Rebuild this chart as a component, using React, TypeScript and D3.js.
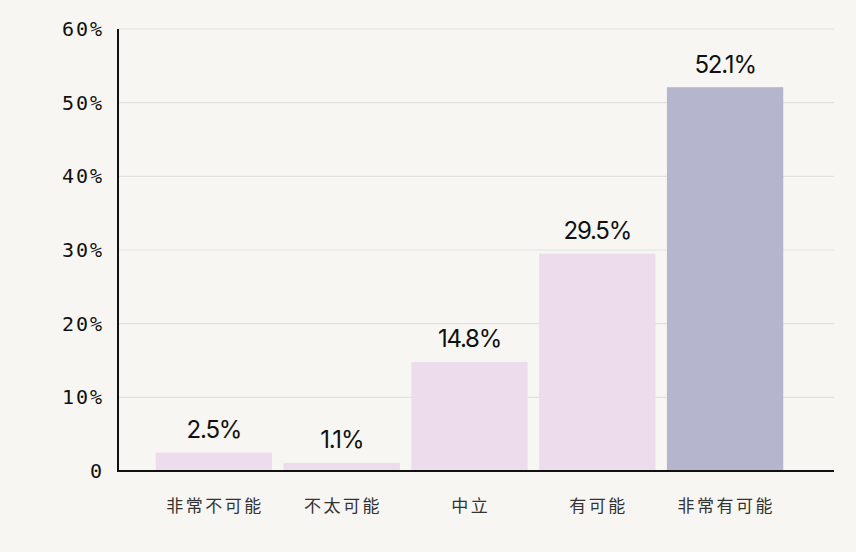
import React, {useEffect, useRef} from "react";
import * as d3 from "d3";

const categories: string[] = ["非常不可能", "不太可能", "中立", "有可能", "非常有可能"];
const shares: number[] = [2.5, 1.1, 14.8, 29.5, 52.1];
const yTicks: number[] = [0, 10, 20, 30, 40, 50, 60];

const Background = "#f7f6f2";
const BarColor = "#ecdcec";
const BarHighlight = "#b5b5cd";

const W = 856;
const H = 552;

export default function App(): React.ReactElement {
  const svgRef = useRef<SVGSVGElement>(null);

  useEffect(() => {
    document.body.style.margin = "0";
    document.body.style.background = Background;
    if (svgRef.current === null) return;
    const svg = d3.select(svgRef.current);
    svg.selectAll("*").remove();

    const x = d3.scaleBand<string>()
      .domain(categories)
      .range([150, 789])
      .paddingInner(0.09)
      .paddingOuter(0.045);
    const y = d3.scaleLinear().domain([0, 60]).range([471, 29]);

    svg.append("rect").attr("width", W).attr("height", H).attr("fill", Background);

    // grid
    svg.append("g").selectAll("line")
      .data(yTicks.filter(t => t > 0))
      .join("line")
      .attr("x1", 118).attr("x2", 834)
      .attr("y1", d => y(d)).attr("y2", d => y(d))
      .attr("stroke", "#e2e1dd").attr("stroke-width", 1.2);

    // bars
    svg.append("g").selectAll("rect")
      .data(shares)
      .join("rect")
      .attr("x", (_, i) => x(categories[i]) as number)
      .attr("y", d => y(d))
      .attr("width", x.bandwidth())
      .attr("height", d => 471 - y(d))
      .attr("fill", (d, i) => i === shares.length - 1 ? BarHighlight : BarColor);

    // value labels
    svg.append("g").selectAll("text")
      .data(shares)
      .join("text")
      .attr("x", (_, i) => (x(categories[i]) as number) + x.bandwidth() / 2)
      .attr("y", d => y(d) - 14.5)
      .attr("text-anchor", "middle")
      .attr("font-family", "Inter, 'Noto Sans', sans-serif")
      .attr("font-size", 24)
      .attr("letter-spacing", "-1.2px")
      .attr("fill", "#111")
      .text(d => `${d.toFixed(1)}%`);

    // axes
    svg.append("line")
      .attr("x1", 118).attr("x2", 118).attr("y1", 29).attr("y2", 471)
      .attr("stroke", "#111").attr("stroke-width", 2);
    svg.append("line")
      .attr("x1", 117).attr("x2", 834).attr("y1", 471).attr("y2", 471)
      .attr("stroke", "#111").attr("stroke-width", 2);

    svg.append("g").selectAll("text")
      .data(yTicks)
      .join("text")
      .attr("x", 104)
      .attr("y", d => y(d) + 7)
      .attr("text-anchor", "end")
      .attr("font-family", "'DejaVu Sans Mono', 'Liberation Mono', monospace")
      .attr("font-size", 20)
      .attr("letter-spacing", "2px")
      .attr("fill", "#111")
      .text(d => d === 0 ? "0" : `${d}%`);

    // category labels
    svg.append("g").selectAll("text")
      .data(categories)
      .join("text")
      .attr("x", d => (x(d) as number) + x.bandwidth() / 2 + 1.2)
      .attr("y", 512)
      .attr("text-anchor", "middle")
      .attr("font-family", "'Noto Sans CJK SC', sans-serif")
      .attr("font-size", 17)
      .attr("letter-spacing", "2.5px")
      .attr("fill", "#333")
      .text(d => d);
  }, []);

  return (
    <div style={{width: W, height: H}}>
      <svg ref={svgRef} width={W} height={H} style={{display: "block"}}></svg>
    </div>
  );
}
